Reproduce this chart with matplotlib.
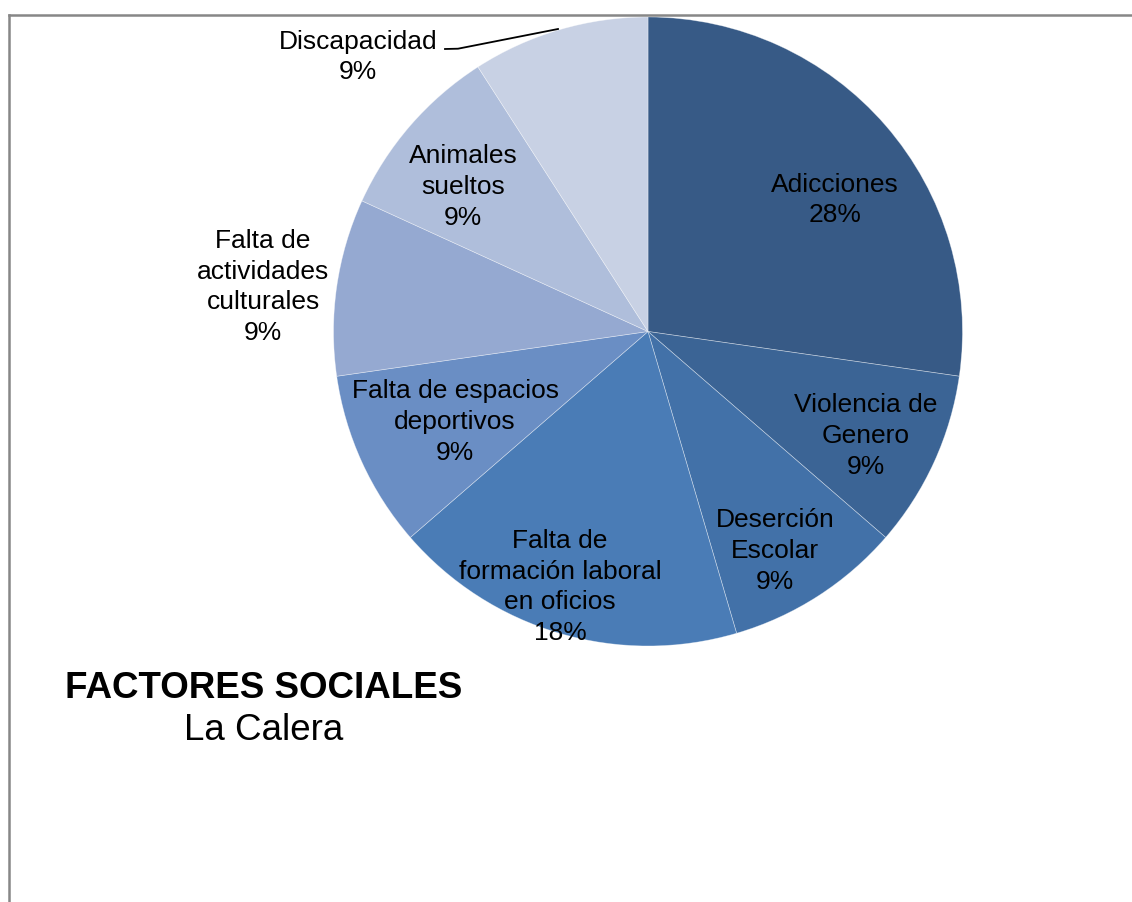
import matplotlib.pyplot as plt
from matplotlib.lines import Line2D

plt.rcParams['font.family'] = ['Liberation Sans', 'DejaVu Sans']

# Data (counts, shown as percentages)
categories = ['Adicciones', 'Violencia de\nGenero', 'Deserción\nEscolar',
              'Falta de\nformación laboral\nen oficios', 'Falta de espacios\ndeportivos',
              'Falta de\nactividades\nculturales', 'Animales\nsueltos', 'Discapacidad']
values = [3, 1, 1, 2, 1, 1, 1, 1]
pct_labels = ['28%', '9%', '9%', '18%', '9%', '9%', '9%', '9%']
colors = ['#375A86', '#3B6495', '#4271A8', '#4A7CB6', '#6A8EC4',
          '#95A9D1', '#AFBEDB', '#C8D1E4']

# label centres in pixels (image coords)
label_px = [(835, 200), (866, 436), (775, 551), (560, 587),
            (455, 422), (263, 287), (463, 187), (358, 57)]

W, H = 1132, 902
cx, cy, R = 648, 331.5, 314.5

fig = plt.figure(figsize=(W / 100, H / 100), dpi=100)
ax = fig.add_axes([(cx - R) / W, (H - cy - R) / H, 2 * R / W, 2 * R / H])
ax.pie(values, colors=colors, startangle=90, counterclock=False, radius=1,
       wedgeprops=dict(edgecolor=(1, 1, 1, 0.45), linewidth=0.5))
ax.set_xlim(-1, 1)
ax.set_ylim(-1, 1)
ax.set_aspect('equal')
ax.axis('off')

for cat, pct, (px, py) in zip(categories, pct_labels, label_px):
    ax.text((px - cx) / R, (cy - py) / R, cat + '\n' + pct, ha='center', va='center',
            fontsize=19, linespacing=1.36, color='black')

# leader line for Discapacidad
lx = [(445 - cx) / R, (458 - cx) / R, (558 - cx) / R]
ly = [(cy - 49) / R, (cy - 48.7) / R, (cy - 29) / R]
ax.plot(lx, ly, color='black', linewidth=1.3, clip_on=False)

# title
fig.text(264 / W, 1 - 688 / H, 'FACTORES SOCIALES', ha='center', va='center',
         fontsize=26.5, fontweight='bold')
fig.text(264 / W, 1 - 730 / H, 'La Calera', ha='center', va='center', fontsize=26.5)

# chart area frame (top and left edges visible)
fig.add_artist(Line2D([9 / W, 1.0], [1 - 15 / H, 1 - 15 / H], color='#878787', linewidth=1.8))
fig.add_artist(Line2D([9 / W, 9 / W], [0.0, 1 - 15 / H], color='#878787', linewidth=1.8))

fig.savefig('out.png', dpi=100)
